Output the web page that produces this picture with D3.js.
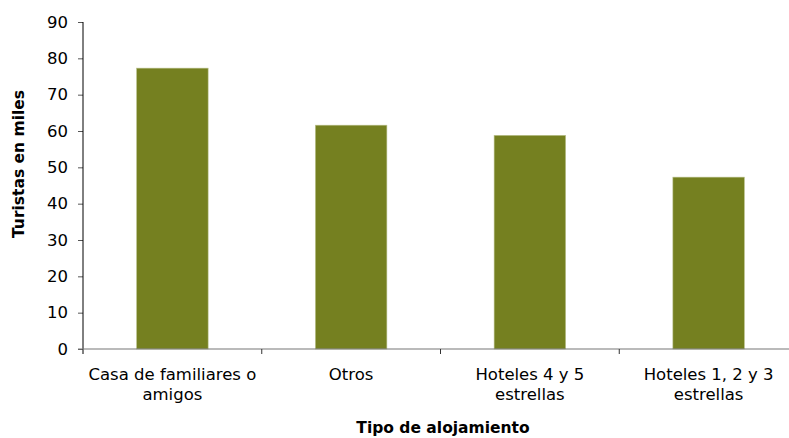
<!DOCTYPE html>
<head>
  <meta charset="utf-8">
  <script src="https://d3js.org/d3.v7.min.js"></script>
  <style>
    body { margin:0; background:#fff; }
    text { font-family: "DejaVu Sans", "Liberation Sans", Arial, sans-serif; fill:#000; }
    .tick text { font-size:16px; }
    .title { font-size:15.5px; font-weight:bold; }
  </style>
</head>
<body>
  <svg id="chart"></svg>
  <script>
  var categories = [["Casa de familiares o", "amigos"], ["Otros"], ["Hoteles 4 y 5", "estrellas"], ["Hoteles 1, 2 y 3", "estrellas"]];
  var values = [77.3, 61.6, 58.8, 47.3];
  var yTicks = [0, 10, 20, 30, 40, 50, 60, 70, 80, 90];

  var width = 789, height = 438;
  var margin = {top: 22, left: 83, bottom: 89};
  var plotRight = 798;
  var y0 = height - margin.bottom;

  var svg = d3.select("#chart")
    .attr("width", width)
    .attr("height", height);

  var keys = categories.map(function(d, i) { return i; });

  var x = d3.scaleBand()
    .domain(keys)
    .range([margin.left, plotRight])
    .paddingInner(0.6)
    .paddingOuter(0.3);

  var xCat = d3.scaleBand()
    .domain(keys)
    .range([margin.left, plotRight]);

  var y = d3.scaleLinear()
    .domain([0, 90])
    .range([y0, margin.top]);

  // bars
  svg.selectAll(".bar")
    .data(values)
    .enter().append("rect")
    .attr("class", "bar")
    .attr("x", function(d, i) { return x(i); })
    .attr("y", function(d) { return y(d); })
    .attr("width", x.bandwidth())
    .attr("height", function(d) { return y0 - y(d); })
    .attr("fill", "#758020")
    .attr("stroke", "#b9c08a")
    .attr("stroke-width", 0.6);

  // y axis
  var yAxis = svg.append("g")
    .attr("transform", "translate(" + margin.left + ",0)")
    .call(d3.axisLeft(y).tickValues(yTicks).tickSize(5).tickPadding(10));
  yAxis.select(".domain").remove();
  yAxis.selectAll(".tick line").attr("stroke", "#555");
  yAxis.selectAll(".tick text").style("font-size", "16.5px");
  yAxis.append("line")
    .attr("x1", 0).attr("x2", 0)
    .attr("y1", margin.top).attr("y2", y0 + 5)
    .attr("stroke", "#000");

  // x axis
  var xAxis = svg.append("g")
    .attr("transform", "translate(0," + y0 + ")");
  xAxis.append("line")
    .attr("x1", margin.left - 5).attr("x2", plotRight)
    .attr("stroke", "#777").attr("stroke-width", 1.2);
  xAxis.selectAll(".xtick")
    .data(keys.slice(1))
    .enter().append("line")
    .attr("x1", function(d) { return xCat(d); })
    .attr("x2", function(d) { return xCat(d); })
    .attr("y1", 0).attr("y2", 5)
    .attr("stroke", "#333");

  var labels = xAxis.selectAll(".xlabel")
    .data(categories)
    .enter().append("text")
    .attr("class", "xlabel")
    .attr("text-anchor", "middle")
    .style("font-size", "16.5px")
    .attr("transform", function(d, i) { return "translate(" + (xCat(i) + xCat.bandwidth() / 2) + ",31)"; });
  labels.selectAll("tspan")
    .data(function(d) { return d; })
    .enter().append("tspan")
    .attr("x", 0)
    .attr("dy", function(d, i) { return i === 0 ? 0 : 20; })
    .text(function(d) { return d; });

  // axis titles
  svg.append("text")
    .attr("class", "title")
    .attr("text-anchor", "middle")
    .attr("x", 443)
    .attr("y", 433)
    .text("Tipo de alojamiento");

  svg.append("text")
    .attr("class", "title")
    .attr("text-anchor", "middle")
    .attr("transform", "translate(24,164) rotate(-90)")
    .text("Turistas en miles");
  </script>
</body>
